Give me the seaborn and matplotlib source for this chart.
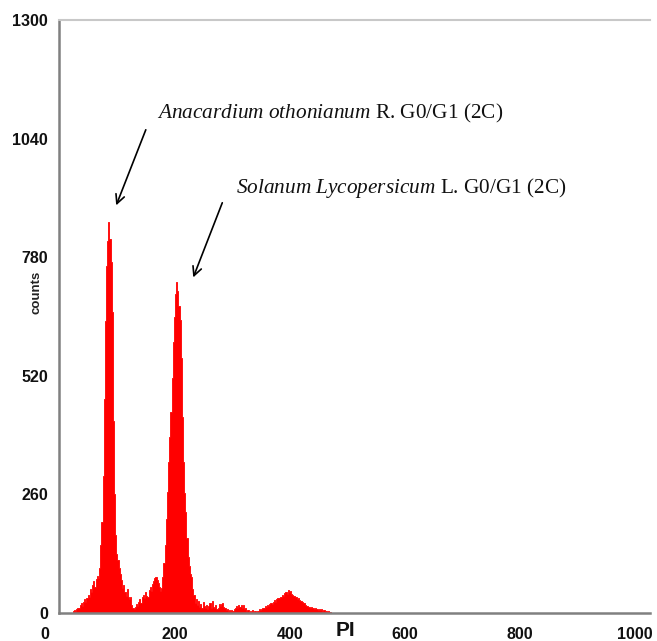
import numpy as np
import pandas as pd
import matplotlib
matplotlib.use("Agg")
import matplotlib.pyplot as plt
from matplotlib.ticker import MultipleLocator
from matplotlib.transforms import ScaledTranslation
import seaborn as sns

# ---- data: PI fluorescence histogram (2-channel bins starting at channel 22) ----
bin_start = 22
bin_width = 2
counts_low = [4, 6, 5, 9, 12, 10, 18, 22, 16, 25, 30, 24, 33, 40, 36, 52, 45, 62, 70, 58, 74, 82, 76, 98]
counts_peak1 = [150, 200, 300, 470, 640, 760, 815, 857, 820, 770, 660, 420, 260, 170, 130]
counts_valley = [116, 98, 85, 72, 55, 62, 45, 38, 52, 34, 30, 36, 18, 12, 8, 14, 20, 16, 25, 30,
                 22, 35, 40, 32, 45, 38, 36, 50, 56, 48, 64, 70, 76, 78, 72, 66, 58, 48]
counts_peak2 = [55, 80, 110, 150, 205, 265, 330, 385, 440, 515, 595, 648, 700, 726, 705, 672, 642,
                560, 430, 330, 262, 222, 165, 122, 104, 86, 78, 52, 40]
counts_mid = [22, 30, 18, 26, 14, 20, 12, 24, 16, 10, 18, 8, 15, 22, 12, 26, 14, 10, 18, 8, 12, 20,
              16, 19, 22, 14, 10, 6, 8, 5, 7, 4, 6]
counts_g2 = [4, 8, 12, 16, 10, 18, 14, 17, 12, 18, 8, 10, 4, 6, 3, 5, 3, 6, 2, 4, 3, 5, 4, 8, 6, 9,
             12, 10, 15, 13, 18, 16, 20, 22, 19, 25, 28, 24, 30, 33, 32, 36, 34, 40, 38, 44, 46, 42,
             50, 47, 48, 42, 40, 38, 35, 36, 30, 33, 28, 26, 24, 22, 21, 18, 16, 15, 14, 12, 13, 10,
             11, 9, 10, 8, 7, 9, 6, 8, 5, 6, 4, 5, 3, 4, 2, 3]

x_ticks = [0, 200, 400, 600, 800, 1000]
y_ticks = [0, 260, 520, 780, 1040, 1300]
label_a_italic = "Anacardium othonianum"
label_a_rest = "R. G0/G1 (2C)"
label_b_italic = "Solanum Lycopersicum"
label_b_rest = "L. G0/G1 (2C)"

counts = counts_low + counts_peak1 + counts_valley + counts_peak2 + counts_mid + counts_g2
channels = bin_start + bin_width * np.arange(len(counts)) + bin_width / 2
df = pd.DataFrame({"PI": channels, "counts": counts})

sns.set_style("white")
plt.rcParams["font.family"] = ["Liberation Sans", "DejaVu Sans"]
plt.rcParams["mathtext.fontset"] = "custom"
plt.rcParams["mathtext.it"] = "Liberation Serif:italic"
plt.rcParams["mathtext.rm"] = "Liberation Serif"

fig = plt.figure(figsize=(6.57, 6.41), dpi=100)
ax = fig.add_axes([59 / 657, 28 / 641, (650 - 59) / 657, (613 - 20) / 641])

sns.histplot(data=df, x="PI", weights="counts", binwidth=bin_width,
             binrange=(bin_start, bin_start + bin_width * len(counts)),
             element="step", fill=True, color="#ff0000", alpha=1.0, linewidth=0.6, ax=ax)

ax.set_xlim(-1.7, 1026)
ax.set_ylim(0, 1300)

ax.set_xticks(x_ticks)
ax.set_yticks(y_ticks)
ax.xaxis.set_minor_locator(MultipleLocator(100))
ax.yaxis.set_minor_locator(MultipleLocator(130))
ax.tick_params(axis="both", which="major", direction="out", length=5, width=1.2,
               colors="#333333", labelsize=11.5, pad=3)
ax.tick_params(axis="both", which="minor", direction="out", length=2.5, width=1.2, colors="#333333")
ax.tick_params(axis="x", which="major", pad=5)
for lab in ax.get_xticklabels() + ax.get_yticklabels():
    lab.set_fontweight("bold")
    lab.set_color("#111111")
first = ax.get_xticklabels()[0]
first.set_transform(first.get_transform() + ScaledTranslation(-0.15, 0, fig.dpi_scale_trans))

for side in ["left", "bottom"]:
    ax.spines[side].set_color("#808080")
    ax.spines[side].set_linewidth(1.8)
ax.spines["top"].set_color("#c8c8c8")
ax.spines["top"].set_linewidth(1.5)
ax.spines["right"].set_visible(False)

ax.set_xlabel("")
ax.set_ylabel("")
fig.text(345 / 657, 1 - 631 / 641, "PI", fontsize=15, fontweight="bold", ha="center", va="center",
         color="#111111")
fig.text(36 / 657, 1 - 292 / 641, "counts", fontsize=9.5, fontweight="bold", rotation=90,
         ha="center", va="center", color="#222222")

arrow_kw = dict(arrowstyle="->", color="black", lw=1.2, mutation_scale=16)
ax.annotate("", xy=(96, 888), xytext=(151, 1065), arrowprops=arrow_kw)
ax.annotate("", xy=(230, 730), xytext=(284, 905), arrowprops=arrow_kw)

ax.text(168, 1094, r"$\mathit{" + label_a_italic.replace(" ", r"\ ") + "}$ " + label_a_rest,
        family="Liberation Serif", fontsize=15.3, ha="left", va="center", color="#111111")
ax.text(306, 932, r"$\mathit{" + label_b_italic.replace(" ", r"\ ") + "}$ " + label_b_rest,
        family="Liberation Serif", fontsize=15.3, ha="left", va="center", color="#111111")

fig.savefig("out.png", dpi=100)
